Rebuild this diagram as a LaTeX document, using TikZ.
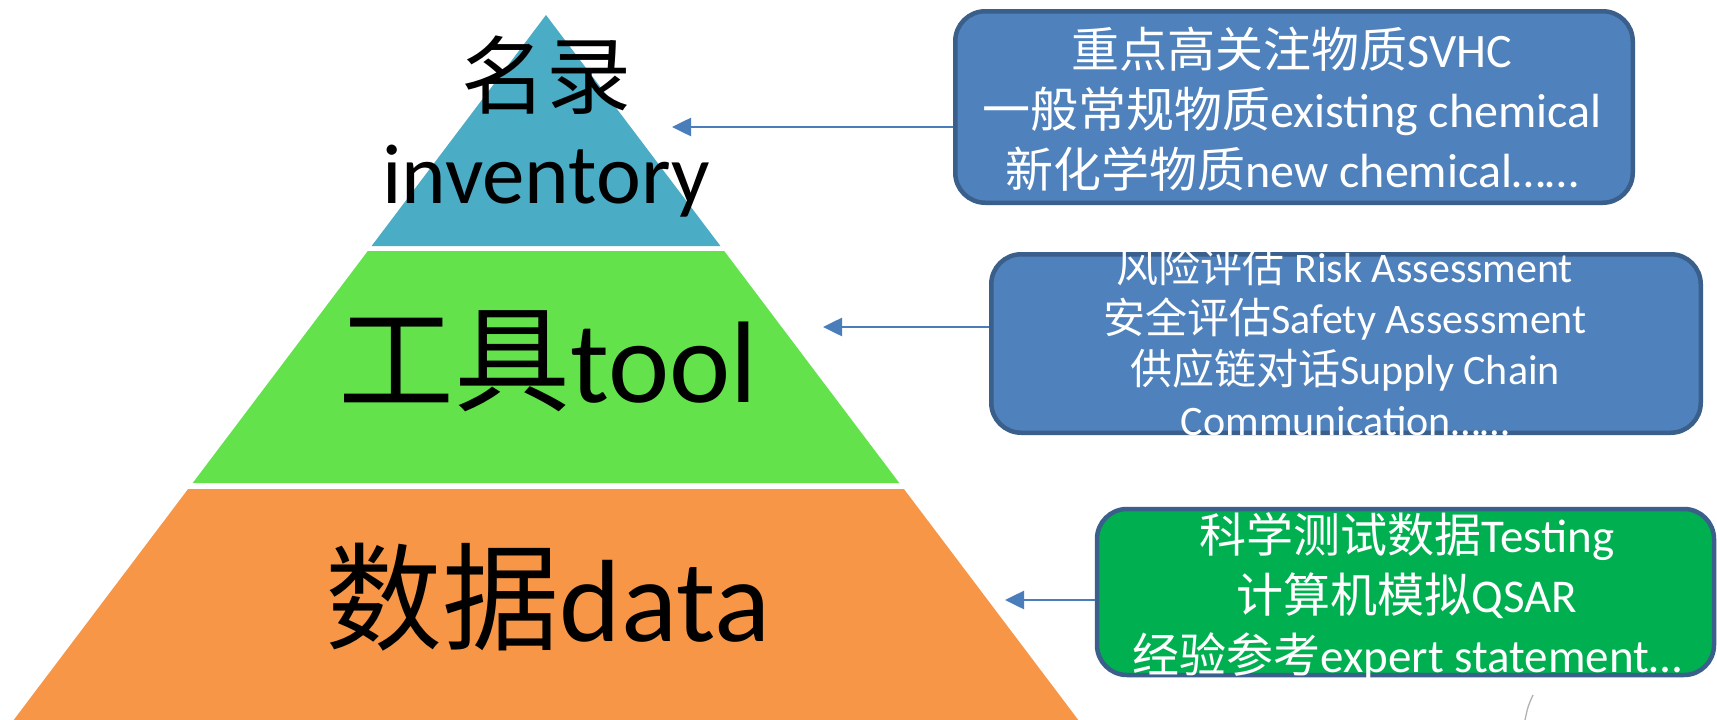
\documentclass[tikz,border=0pt]{standalone}
\usepackage{fontspec}
\setmainfont{Carlito}
\newfontfamily\cjk{Noto Sans CJK SC}
\usetikzlibrary{arrows.meta}
\definecolor{layerteal}{HTML}{4BACC6}
\definecolor{layergreen}{HTML}{63E24B}
\definecolor{layerorange}{HTML}{F79646}
\definecolor{boxblue}{HTML}{4F81BD}
\definecolor{boxgreen}{HTML}{00B050}
\definecolor{boxborder}{HTML}{3A5F8B}
\definecolor{arrowblue}{HTML}{4A7EBB}
\begin{document}
\begin{tikzpicture}[x=1pt,y=-1pt,
  infobox/.style={draw=boxborder, line width=4.5pt, rounded corners=30pt, inner sep=0pt},
  boxtext/.style={text=white, align=center, inner sep=0pt},
  layertext/.style={text=black, inner sep=0pt, anchor=base},
  pointer/.style={draw=arrowblue, line width=2.6pt, -{Triangle[length=19pt,width=18pt]}}
]
\useasboundingbox (0,0) rectangle (1717,720);
\fill[white] (0,0) rectangle (1717,720);

% pyramid layers
\fill[layerteal] (546,15) -- (720.4,246) -- (371.6,246) -- cycle;
\fill[layergreen] (367.8,251) -- (724.2,251) -- (899.3,483) -- (192.7,483) -- cycle;
\fill[layerorange] (188.1,489) -- (903.9,489) -- (1078.3,720) -- (13.7,720) -- cycle;

% pyramid labels
\node[layertext, font=\fontsize{85}{96}\selectfont] (inv1) at (546,107) {{\cjk 名录}};
\node[layertext, font=\fontsize{85}{96}\selectfont] (inv2) at (546,203) {inventory};
\node[layertext, font=\fontsize{116}{130}\selectfont] (tool) at (548,402) {{\cjk 工具}tool};
\node[layertext, font=\fontsize{117}{130}\selectfont] (data) at (548,641) {{\cjk 数据}data};

% arrow tips
\coordinate (tip1) at (672,127);
\coordinate (tip2) at (823,327);
\coordinate (tip3) at (1005,600);

% boxes
\node[infobox, fill=boxblue, minimum width=677.5pt, minimum height=191.5pt] (b1) at (1294,107) {};
\node[infobox, fill=boxblue, minimum width=709.5pt, minimum height=178.5pt] (b2) at (1346,343.5) {};
\node[infobox, fill=boxgreen, minimum width=617pt, minimum height=166pt] (b3) at (1405.5,592) {};

% connectors from the box edges to the pyramid
\draw[pointer] (b1.west |- tip1) -- (tip1);
\draw[pointer] (b2.west |- tip2) -- (tip2);
\draw[pointer] (b3.west |- tip3) -- (tip3);

% box texts
\node[boxtext, font=\fontsize{48}{60}\selectfont] (t1) at (1292,109)
  {{\cjk 重点高关注物质}SVHC\\{\cjk 一般常规物质}existing chemical\\{\cjk 新化学物质}new chemical……};
\node[boxtext, font=\fontsize{42}{51}\selectfont] (t2) at (1345,341)
  {{\cjk 风险评估} Risk Assessment\\{\cjk 安全评估}Safety Assessment\\{\cjk 供应链对话}Supply Chain\\Communication……};
\node[boxtext, font=\fontsize{47}{60}\selectfont] (t3) at (1407,596)
  {{\cjk 科学测试数据}Testing\\{\cjk 计算机模拟}QSAR\\{\cjk 经验参考}expert statement…};

% faint stroke at the bottom right
\draw[black!30, line width=1.3pt] (1533,695) .. controls (1528,706) .. (1525,720);
\end{tikzpicture}
\end{document}
